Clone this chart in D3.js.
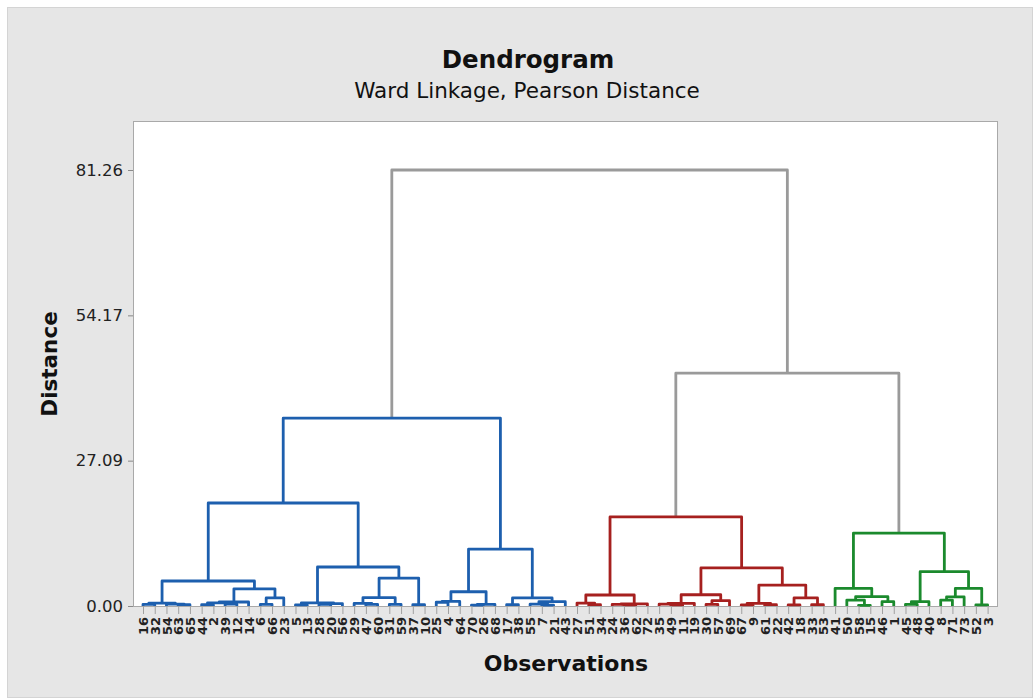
<!DOCTYPE html>
<html>
<head>
<meta charset="utf-8">
<script src="https://cdn.jsdelivr.net/npm/d3@7"></script>
<style>
  html, body { margin: 0; padding: 0; background: #ffffff; }
  svg { display: block; }
  text { font-family: "DejaVu Sans", Verdana, sans-serif; }
</style>
</head>
<body>
<svg id="chart" width="1033" height="698"></svg>
<script>
// ---------- data ----------
const chartTitle = "Dendrogram";
const chartSubtitle = "Ward Linkage, Pearson Distance";
const xTitle = "Observations";
const yTitle = "Distance";
const yTickValues = [0, 27.09, 54.17, 81.26];

// Cluster subtrees: node = [left, right, height]; leaf = observation number
const blueCluster = [
  [
    [
      [[16, 32, 0.3], [54, [63, 65, 0.25], 0.35], 0.55],
      [[[[44, 2, 0.25], [39, 12, 0.35], 0.6], 14, 0.75], [[6, 66, 0.3], 23, 1.5], 3.2],
      4.66
    ],
    [
      [[5, 13, 0.2], [[28, 20, 0.3], 56, 0.45], 0.6],
      [[[29, [47, 60, 0.3], 0.5], [31, 59, 0.3], 1.55], [37, 10, 0.25], 5.2],
      7.27
    ],
    19.2
  ],
  [
    [[[25, 4, 0.7], 64, 0.85], [[70, 26, 0.15], 68, 0.3], 2.66],
    [[17, 38, 0.25], [[55, [7, 21, 0.15], 0.35], 43, 0.8], 1.5],
    10.6
  ],
  35.0
];
const redCluster = [
  [[27, [51, 34, 0.25], 0.55], [[24, [36, 62, 0.2], 0.3], 72, 0.4], 2.05],
  [
    [[[35, [49, 11, 0.2], 0.35], 19, 0.5], [[30, 57, 0.3], 69, 1.0], 2.1],
    [[[67, 9, 0.2], [61, 22, 0.25], 0.5], [[42, 18, 0.2], [33, 53, 0.25], 1.5], 3.9],
    7.1
  ],
  16.6
];
const greenCluster = [
  [41, [[50, [58, 15, 0.1], 1.1], [46, 1, 0.8], 1.73], 3.3],
  [[[45, 48, 0.3], 40, 0.8], [[[8, 71, 1.1], 73, 1.7], [52, 3, 0.2], 3.3], 6.4],
  13.6
];
const upperHeights = [43.4, 81.26]; // red+green merge, root merge
const clusterColors = ["#1d5fae", "#a6201f", "#1b8a2d"];
const linkGray = "#9a9a9a";

// ---------- build tree ----------
const clusters = [blueCluster, redCluster, greenCluster];
const tree = [blueCluster, [redCluster, greenCluster, upperHeights[0]], upperHeights[1]];

const root = d3.hierarchy(tree, d => Array.isArray(d) ? [d[0], d[1]] : null);
root.each(n => { n.h = Array.isArray(n.data) ? n.data[2] : 0; });
root.each(n => { n.color = linkGray; });
root.each(n => {
  const ci = clusters.indexOf(n.data);
  if (ci >= 0) n.descendants().forEach(m => { m.color = clusterColors[ci]; });
});
const leafOrder = root.leaves().map(l => String(l.data));

// ---------- layout ----------
const svg = d3.select("#chart");
const W = 1033, H = 698;
const plot = { left: 133, right: 997, top: 121, bottom: 606 };

svg.append("rect").attr("x", 0).attr("y", 0).attr("width", W).attr("height", H).attr("fill", "#ffffff");
svg.append("rect").attr("x", 7.5).attr("y", 7.5).attr("width", W - 8).attr("height", H - 8)
  .attr("fill", "#e6e6e6").attr("stroke", "#d4d4d4");
svg.append("rect").attr("x", plot.left + 0.5).attr("y", plot.top + 0.5)
  .attr("width", plot.right - plot.left).attr("height", plot.bottom - plot.top)
  .attr("fill", "#ffffff").attr("stroke", "#a9a9a9");

const x = d3.scalePoint().domain(leafOrder).range([143, 987.6]);
const y = d3.scaleLinear().domain([0, 81.26]).range([606, 170]);

root.eachAfter(n => {
  if (n.children) n.px = (n.children[0].px + n.children[1].px) / 2;
  else n.px = x(String(n.data));
  n.py = y(n.h);
});

// links
const g = svg.append("g");
root.descendants().filter(n => n.children).forEach(n => {
  const [a, b] = n.children;
  g.append("path")
    .attr("d", `M${a.px},${a.py}V${n.py}H${b.px}V${b.py}`)
    .attr("fill", "none")
    .attr("stroke", n.color)
    .attr("stroke-width", 2.8)
    .attr("stroke-linejoin", "round");
});

// y axis
const yAxis = d3.axisLeft(y).tickValues(yTickValues).tickFormat(d => d.toFixed(2)).tickSize(5).tickPadding(5);
const ya = svg.append("g").attr("transform", `translate(${plot.left},0)`).call(yAxis);
ya.select(".domain").remove();
ya.selectAll(".tick line").attr("stroke", "#8a8a8a");
ya.selectAll(".tick text").attr("font-size", 16.5).attr("fill", "#222")
  .style("font-family", "'DejaVu Sans', sans-serif");

// x axis (leaf labels)
const xAxis = d3.axisBottom(x).tickSize(8).tickPadding(4);
const xa = svg.append("g").attr("transform", `translate(0,${plot.bottom})`).call(xAxis);
xa.select(".domain").remove();
xa.selectAll(".tick line").attr("stroke", "#a0a0a0");
xa.selectAll(".tick text")
  .attr("font-size", 13).attr("font-weight", "bold").attr("fill", "#222")
  .style("font-family", "'DejaVu Sans', sans-serif")
  .attr("transform", "rotate(-90)")
  .attr("text-anchor", "end")
  .attr("x", -11).attr("y", 0).attr("dy", "0.35em");

// titles
svg.append("text").attr("x", 528).attr("y", 68).attr("text-anchor", "middle")
  .attr("font-size", 24.5).attr("font-weight", "bold").attr("fill", "#111").text(chartTitle);
svg.append("text").attr("x", 527).attr("y", 98).attr("text-anchor", "middle")
  .attr("font-size", 21.5).attr("fill", "#111").text(chartSubtitle);
svg.append("text").attr("x", 566).attr("y", 671).attr("text-anchor", "middle")
  .attr("font-size", 22).attr("font-weight", "bold").attr("fill", "#111").text(xTitle);
svg.append("text").attr("transform", "translate(57,364) rotate(-90)").attr("text-anchor", "middle")
  .attr("font-size", 21.5).attr("font-weight", "bold").attr("fill", "#111").text(yTitle);
</script>
</body>
</html>
